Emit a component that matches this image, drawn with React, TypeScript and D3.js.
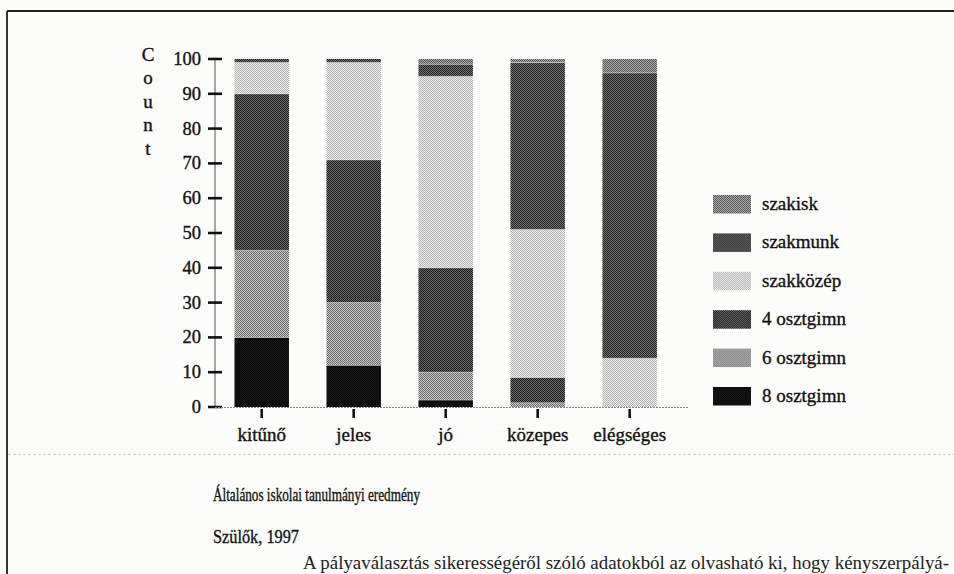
import React from "react";
import * as d3 from "d3";

// kategóriák (x tengely)
const categories = ["kitűnő", "jeles", "jó", "közepes", "elégséges"];
// sorozatok alulról felfelé
const seriesNames = ["8 osztgimn", "6 osztgimn", "4 osztgimn", "szakközép", "szakmunk", "szakisk"];
const osztgimn8 = [20, 12, 2, 0, 0];
const osztgimn6 = [25, 18, 8, 1.2, 0];
const osztgimn4 = [45, 41, 30, 7.3, 0];
const szakkozep = [9, 28, 55, 42.5, 14];
const szakmunk = [1, 1, 3.5, 48, 82];
const szakisk = [0, 0, 1.5, 1, 4];
const yTicks = [0, 10, 20, 30, 40, 50, 60, 70, 80, 90, 100];
const axisLetters = ["C", "o", "u", "n", "t"];

// féltónus minták: [sötét, világos]
const patternColors = {
  "8 osztgimn": ["#0b0b0b", "#151515"],
  "6 osztgimn": ["#6c6c6c", "#c6c6c6"],
  "4 osztgimn": ["#1c1c1c", "#6a6a6a"],
  "szakközép": ["#b4b4b4", "#ededed"],
  "szakmunk": ["#242424", "#727272"],
  "szakisk": ["#585858", "#aaaaaa"],
};

const FONT = "'Liberation Serif', 'DejaVu Serif', serif";
const ink = { fill: "#111", stroke: "#111", strokeWidth: 0.35 };

export default function App() {
  const width = 954, height = 574;
  const seriesValues = [osztgimn8, osztgimn6, osztgimn4, szakkozep, szakmunk, szakisk];
  const table = categories.map((c, i) => {
    const row: any = { cat: c };
    seriesNames.forEach((s, j) => (row[s] = seriesValues[j][i]));
    return row;
  });
  const stacked = d3.stack().keys(seriesNames)(table);

  const x = d3.scaleBand().domain(categories).range([234.5, 656.9]).paddingInner(0.408).paddingOuter(0);
  const y = d3.scaleLinear().domain([0, 100]).range([407, 59]);
  const pid = (s: string) => "pat" + seriesNames.indexOf(s);

  const legendItems = seriesNames.slice().reverse();

  return (
    <svg width={width} height={height} style={{ position: "absolute", left: 0, top: 0, background: "#fcfcfb" }}
      fontFamily={FONT}>
      <defs>
        {seriesNames.map((s) => (
          <pattern key={s} id={pid(s)} patternUnits="userSpaceOnUse" width={2} height={2}>
            <rect width={2} height={2} fill={patternColors[s][1]} />
            <rect x={0} y={0} width={1} height={1} fill={patternColors[s][0]} />
            <rect x={1} y={1} width={1} height={1} fill={patternColors[s][0]} />
          </pattern>
        ))}
      </defs>

      {/* keret */}
      <line x1={7} x2={954} y1={11} y2={11} stroke="#222" strokeWidth={1.8} />
      <line x1={7} x2={7} y1={11} y2={574} stroke="#222" strokeWidth={1.8} />
      <line x1={8} x2={954} y1={454.5} y2={454.5} stroke="#d4d4d4" strokeWidth={1} strokeDasharray="3 2" />

      {/* y tengely */}
      <line x1={215} x2={215} y1={y(100)} y2={y(0)} stroke="#555" strokeWidth={1} />
      {yTicks.map((t) => (
        <g key={t}>
          <line x1={208} x2={222} y1={y(t)} y2={y(t)} stroke="#111" strokeWidth={2.6} />
          <text x={201} y={y(t) + 6} textAnchor="end" fontSize={18.5} {...ink}>{t}</text>
        </g>
      ))}
      {axisLetters.map((l, i) => (
        <text key={i} x={148} y={60.5 + i * 23.6} textAnchor="middle" fontSize={19} {...ink}>{l}</text>
      ))}

      {/* x tengely */}
      <line x1={215} x2={688} y1={y(0) + 0.5} y2={y(0) + 0.5} stroke="#888" strokeWidth={1} strokeDasharray="2 1" />

      {/* oszlopok */}
      {stacked.map((layer) => (
        <g key={layer.key} fill={`url(#${pid(layer.key)})`}>
          {layer.map((d, i) => (
            d[1] - d[0] > 0 ? (
              <rect key={i} x={x(categories[i])} y={y(d[1])} width={x.bandwidth()} height={y(d[0]) - y(d[1])} />
            ) : null
          ))}
        </g>
      ))}
      {stacked.map((layer) => (
        <g key={"sep" + layer.key}>
          {layer.map((d, i) => (
            d[1] - d[0] > 0 && d[0] > 0 ? (
              <line key={i} x1={x(categories[i])} x2={(x(categories[i]) as number) + x.bandwidth()}
                y1={y(d[0])} y2={y(d[0])} stroke="#f2f2f2" strokeWidth={0.9} strokeDasharray="1 1" />
            ) : null
          ))}
        </g>
      ))}

      {categories.map((c) => {
        const cx = (x(c) as number) + x.bandwidth() / 2;
        return (
          <g key={c}>
            <line x1={cx} x2={cx} y1={409} y2={418} stroke="#111" strokeWidth={2.6} />
            <text x={cx} y={441} textAnchor="middle" fontSize={19} {...ink}>{c}</text>
          </g>
        );
      })}

      {/* jelmagyarázat */}
      {legendItems.map((s, i) => (
        <g key={s} transform={`translate(713, ${195 + i * 38.4})`}>
          <rect width={38} height={18.5} fill={`url(#${pid(s)})`} />
          <text x={49} y={15} fontSize={19} {...ink}>{s}</text>
        </g>
      ))}

      {/* címek */}
      <text x={213} y={501} fontSize={19} {...ink} textLength={207} lengthAdjust="spacingAndGlyphs">
        Általános iskolai tanulmányi eredmény
      </text>
      <text x={213} y={543} fontSize={19} {...ink} textLength={86} lengthAdjust="spacingAndGlyphs">
        Szülők, 1997
      </text>

      {/* a lap szövege alul */}
      <text x={303} y={569} fontSize={19} fill="#222" textLength={646} lengthAdjust="spacingAndGlyphs">
        A pályaválasztás sikerességéről szóló adatokból az olvasható ki, hogy kényszerpályá-
      </text>
    </svg>
  );
}
